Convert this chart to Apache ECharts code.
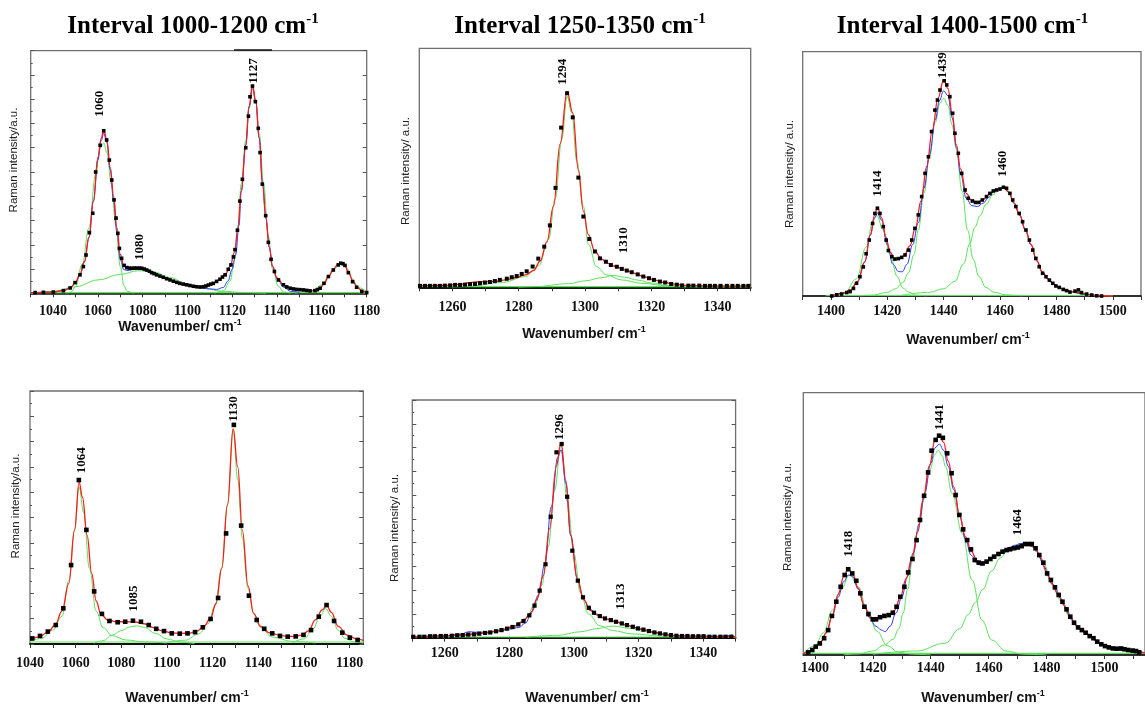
<!DOCTYPE html>
<html><head><meta charset="utf-8">
<script src="https://cdn.jsdelivr.net/npm/echarts@6/dist/echarts.min.js"></script>
<style>html,body{margin:0;padding:0;background:#fff}#c{width:1145px;height:708px}</style>
</head><body><div id="c"></div>
<script>
// ---------- text ----------
const titles = ['Interval 1000-1200 cm', 'Interval 1250-1350 cm', 'Interval 1400-1500 cm'];
const yNames = ['Raman intensity/a.u.', 'Raman intensity/ a.u.', 'Raman intensity/ a.u.', 'Raman intensity/a.u.', 'Raman intensity/ a.u.', 'Raman intensity/ a.u.'];
const xName = 'Wavenumber/ cm';

// ---------- tick values / labels ----------
const ticks1 = [1030,1040,1050,1060,1070,1080,1090,1100,1110,1120,1130,1140,1150,1160,1170,1180];
const labels1 = [1040,1060,1080,1100,1120,1140,1160,1180];
const ticks2 = [1250,1260,1270,1280,1290,1300,1310,1320,1330,1340,1350];
const labels2 = [1260,1280,1300,1320,1340];
const ticks3 = [1390,1400,1410,1420,1430,1440,1450,1460,1470,1480,1490,1500,1510];
const labels3 = [1400,1420,1440,1460,1480,1500];
const ticks4 = [1040,1050,1060,1070,1080,1090,1100,1110,1120,1130,1140,1150,1160,1170,1180];
const labels4 = [1040,1060,1080,1100,1120,1140,1160,1180];
const ticks5 = [1250,1260,1270,1280,1290,1300,1310,1320,1330,1340,1350];
const labels5 = [1260,1280,1300,1320,1340];
const ticks6 = [1400,1410,1420,1430,1440,1450,1460,1470,1480,1490,1500,1510];
const labels6 = [1400,1420,1440,1460,1480,1500];

// ---------- panel 1 (1000-1200, top) ----------
const p1Data = [[1032,0.3],[1035.7,0.4],[1040.1,0.5],[1044.6,1.1],[1047.6,2.2],[1049.8,4.4],[1052,7.6],[1053.5,11],[1054.7,15.8],[1056.2,25],[1057.7,33],[1059,50],[1061,61],[1062.6,67],[1063.9,63.2],[1065.1,54.9],[1066.2,46.7],[1067.2,38.5],[1068.1,31],[1068.9,24.7],[1069.6,18.5],[1070.6,14.4],[1071.7,11.5],[1072.9,10.6],[1074,10.4],[1075.1,10.3],[1076.2,10.4],[1077.3,10.4],[1078.5,10.4],[1079.6,10.3],[1080.7,10],[1081.8,9.6],[1083,9.1],[1084,8.5],[1085.1,8.1],[1086.2,7.6],[1087.7,7.1],[1089.2,6.6],[1090.7,6],[1092.2,5.5],[1093.7,5],[1095.2,4.5],[1096.6,4.1],[1098.1,3.8],[1099.6,3.5],[1101.1,3.2],[1102.6,2.9],[1104.1,2.7],[1105.6,2.6],[1107.1,2.7],[1108.2,3],[1109.3,3.4],[1110.4,3.8],[1111.5,4.1],[1113,4.9],[1114.5,5.8],[1115.6,6.7],[1116.8,7.6],[1118.2,9.9],[1119.4,11.7],[1120.5,15],[1121.2,18],[1122.3,26],[1123.4,38],[1124.5,47],[1126,60],[1127.2,73],[1127.9,81],[1129,85.4],[1130.3,79],[1131.6,68],[1132.4,58],[1133.4,45],[1134.9,32],[1136.1,21],[1137.3,14],[1138.8,9],[1140.6,5.5],[1142.8,3.5],[1144.3,2.6],[1145.8,2.1],[1147.3,1.8],[1148.7,1.6],[1150.2,1.5],[1151.7,1.4],[1153.2,1.2],[1154.7,1],[1156.9,1.1],[1158,1.5],[1159.2,2.1],[1160.9,4.1],[1162.9,6.9],[1165.1,9.6],[1167.3,11.7],[1168.4,12.4],[1169.4,12.2],[1170.3,11.5],[1171.8,8.5],[1173.7,4.8],[1175.5,2.5],[1177.8,0.8],[1180,0.3]];
const p1Red = [[1030,0.2],[1040,0.5],[1045,1.2],[1048,2.5],[1050,4.6],[1052,7.8],[1054,13],[1056,23],[1058,38],[1060,56],[1061.5,64],[1062.6,67.5],[1064,63],[1065.5,52],[1067,40],[1068.5,27],[1070,16],[1071.5,11.5],[1073,10.5],[1077,10.4],[1080,10.2],[1085,8.2],[1090,6.3],[1095,4.6],[1100,3.3],[1105,2.6],[1108,2.9],[1111,3.9],[1114,5.5],[1117,8],[1119,11],[1121,17],[1122.5,27],[1124,42],[1126,61],[1127.5,77],[1129,86],[1130.5,79],[1132,64],[1133.5,45],[1135,31],[1136.5,19],[1138,11],[1140,6.3],[1143,3.4],[1147,1.9],[1152,1.3],[1156,1],[1159,1.9],[1161,4],[1163,7],[1165,9.7],[1167,11.8],[1168.5,12.6],[1170,11.8],[1172,8.5],[1174,4.6],[1176,2.2],[1178,0.9],[1180,0.3]];
const p1Blue = [[1030,0.2],[1040,0.5],[1045,1.2],[1048,2.5],[1050,4.6],[1052,7.8],[1054,13],[1056,23],[1058,38],[1060,55],[1061.5,63],[1062.6,66],[1064,62],[1065.5,51],[1067,38],[1068.5,25],[1070,14],[1071.5,9.8],[1073,9.4],[1077,10],[1080,10],[1085,8.2],[1090,6.3],[1095,4.6],[1100,3.2],[1105,2.3],[1110,1.8],[1113,1.6],[1116,2.4],[1118,5],[1120,10],[1121.5,16],[1123,28],[1124,42],[1126,61],[1127.5,77],[1129,85],[1130.5,79],[1132,64],[1133.5,45],[1135,31],[1136.5,19],[1138,11],[1140,6],[1143,2.5],[1146,0.8],[1150,0.3]];
const p1PeakA = [[1046,0],[1048,0.5],[1050,2.7],[1053,12],[1056,27],[1059,49],[1061,60],[1062.6,62],[1064,58],[1066,45],[1068,28],[1070,11],[1071.7,3],[1073,0.8],[1076,0]];
const p1PeakB = [[1030,0],[1040,0.8],[1050,2.7],[1060,5.5],[1070,7.8],[1078,9.3],[1085,8.8],[1092,6.5],[1100,3.8],[1108,2],[1115,0.9],[1125,0.3],[1135,0]];
const p1PeakC = [[1112,0],[1116,1],[1119,5],[1121,14],[1122.5,28],[1124,45],[1126,63],[1127.5,76],[1129,84],[1130.5,79],[1132,66],[1134,45],[1136,24],[1138,10],[1140.5,3],[1143,0.5],[1146,0]];
const p1PeakD = [[1148,0],[1152,0.5],[1156,1.3],[1160,3.5],[1163,7],[1166,10.5],[1168.5,12.3],[1171,10.5],[1173.5,6],[1176,2.5],[1180,0.5]];
const p1Base = [[1030,0.3],[1180,0.3]];
const p1Labels = [[1061,72.8,'1060'],[1078.8,13.7,'1080'],[1129.4,86.5,'1127']];

// ---------- panel 2 (1250-1350, top) ----------
const p2Data = [[1250.2,0.6],[1251.7,0.6],[1253.2,0.6],[1254.7,0.6],[1256.2,0.6],[1257.7,0.7],[1259.3,0.8],[1260.8,1],[1262.3,1],[1263.8,1.1],[1265.3,1.3],[1266.8,1.4],[1268.3,1.7],[1269.8,2],[1271.3,2.2],[1272.8,2.6],[1274.3,3.1],[1276.4,3.6],[1277.9,4.2],[1279.4,4.7],[1280.9,5.6],[1282.4,6.7],[1284.2,8.7],[1285.9,12],[1287.7,17],[1289.4,25.9],[1291.1,41.6],[1292.8,66.8],[1294.6,81.2],[1296.3,71.1],[1298,45.9],[1299.5,29.6],[1301.3,20.2],[1303,15],[1304.5,12.1],[1306.3,10.7],[1307.8,9.3],[1309.6,8.6],[1311.1,7.7],[1312.6,7],[1314.1,6.3],[1315.9,5.4],[1317.6,4.5],[1319.3,3.8],[1320.8,3.1],[1322.6,2.4],[1324.2,2],[1326,1.4],[1327.7,1.1],[1329.3,0.8],[1331.2,0.7],[1332.7,0.7],[1334.5,0.7],[1336.2,0.6],[1337.7,0.6],[1339.2,0.6],[1340.9,0.6],[1342.8,0.6],[1344.5,0.6],[1346.1,0.6],[1347.8,0.6],[1349.3,0.6]];
const p2Red = [[1250,0.6],[1258,0.8],[1262,1.2],[1265,1.9],[1267,2.3],[1270,2.4],[1273,2.5],[1276,3.1],[1279,4],[1282,5.2],[1284.5,7],[1286.5,11],[1288.5,19],[1290.5,34],[1292.5,60],[1294.6,82],[1296.3,73],[1298,49],[1299.5,32],[1301,22],[1303,15],[1305,11.8],[1307,10],[1309,8.8],[1312,7.3],[1315,5.8],[1318,4.3],[1321,3],[1324,2],[1327,1.3],[1331,0.8],[1336,0.6],[1345,0.5],[1350,0.7]];
const p2PeakA = [[1260,0.2],[1265,0.5],[1275,2],[1282,4.5],[1286,9],[1289,20],[1291,37],[1293,62],[1294.6,80],[1296,73],[1297.5,53],[1299.5,34],[1301,18],[1303.5,8.6],[1306.5,5.2],[1311,3.1],[1317,1.7],[1325,0.6],[1335,0.2],[1350,0]];
const p2PeakB = [[1280,0],[1285,0.3],[1295,1.5],[1300,2.7],[1305,4],[1308.5,5],[1312,4.2],[1316,3],[1320,1.8],[1325,0.7],[1330,0.2],[1340,0]];
const p2Base = [[1250,0.3],[1350,0.3]];
const p2Labels = [[1293.3,84.7,'1294'],[1311.8,14.2,'1310']];

// ---------- panel 3 (1400-1500, top) ----------
const p3Data = [[1400.3,0],[1402.1,0.5],[1403.8,0.8],[1405.6,1.4],[1406.8,1.8],[1408,3.1],[1409.1,5.2],[1410.3,7.9],[1411.5,11.9],[1412.5,17.3],[1413.6,22.9],[1414.8,29.7],[1415.6,33.8],[1416.5,35.9],[1417.4,33.8],[1418.6,28.4],[1419.6,22.9],[1420.4,18.6],[1421.6,16.1],[1422.7,15.1],[1423.9,15.3],[1425.1,15.8],[1426.3,16.8],[1427.5,18.8],[1428.7,22.9],[1429.8,27.7],[1431,33.2],[1432.2,40.7],[1433.4,50.2],[1434.6,57],[1435.7,67.3],[1436.9,76.1],[1437.8,80.2],[1438.7,84.3],[1440.2,88.1],[1441.1,86.4],[1442.2,81.6],[1443.2,74.8],[1444,66.6],[1445.2,58.4],[1446.4,50.2],[1447.6,43.4],[1448.7,40],[1450.2,38.9],[1451.3,38.3],[1452.5,38.3],[1453.7,39.3],[1455.2,40.7],[1456.4,42],[1457.6,43],[1458.8,43.4],[1460,43.8],[1461.2,44.5],[1462.3,44.1],[1463.5,42],[1464.5,39.3],[1465.6,36.6],[1466.8,33.8],[1468,30.4],[1469.2,27],[1470.4,22.9],[1471.6,18.8],[1472.7,15.4],[1473.9,12],[1475.1,9.3],[1476.3,7.9],[1477.5,6.5],[1478.7,5.2],[1479.8,4.1],[1481,3.5],[1482.4,2.7],[1483.6,2.2],[1484.8,1.6],[1486.6,2],[1487.8,2.5],[1488.9,1.4],[1490.7,0.8],[1492.5,0.4],[1494.3,0.1],[1496,0]];
const p3Red = [[1400,0],[1404,1],[1407,2.5],[1409.5,6],[1412,14],[1414,25],[1415.5,33],[1416.5,36.5],[1418,32],[1419.5,24],[1421,18],[1422.5,15.5],[1424,15],[1426,16.5],[1428,20.5],[1430,28],[1432,39],[1434,53],[1436,68],[1438,81],[1440,88.5],[1441.5,85],[1443,75],[1444.5,62],[1446,52],[1448,42],[1450,39],[1452,38.3],[1454,39.5],[1456,41.5],[1458,43.2],[1460,44],[1461.5,44.5],[1463,42.5],[1465,38],[1467,33],[1469,27],[1471,21],[1473,14.5],[1475,9.8],[1477,7],[1479,4.8],[1482,3],[1485,1.8],[1488,1.4],[1491,0.7],[1495,0.1],[1500,0]];
const p3Blue = [[1400,0],[1404,1],[1407,2.5],[1409.5,6],[1412,14],[1414,25],[1415.5,32],[1416.5,34],[1418,31],[1420,21],[1422,13],[1424,10],[1425.3,9.9],[1427,13],[1429,21],[1431,30],[1433,44],[1435,58],[1437,72],[1438.5,80],[1440,84],[1441.5,82],[1443,73],[1444.5,61],[1446,50],[1448,40],[1450,37],[1452,36.6],[1454,38],[1456,40.5],[1458,43],[1460,44],[1461.5,44.5],[1463,42.5],[1465,38],[1467,33],[1469,27],[1471,21],[1473,14.5],[1475,9.8],[1477,7],[1479,4.8],[1482,3],[1485,1.8],[1490,0.7],[1495,0.1]];
const p3PeakA = [[1398,0],[1400,0.3],[1405,1.5],[1409,7],[1412.5,20],[1415,31],[1416.3,33],[1418.5,27],[1421,17],[1423.5,8],[1425.5,3.3],[1427.5,1.6],[1430,0.4],[1434,0]];
const p3PeakB = [[1410,0],[1415,0.4],[1420,1.5],[1423,3],[1425.5,5.5],[1427.5,9.5],[1429.5,17],[1431,27],[1433,42],[1435,57],[1437,71],[1438.7,79],[1440,81],[1441.5,78],[1443,70],[1444.5,60],[1446.5,43],[1448.5,27],[1450.5,15],[1452.5,8],[1455,3.5],[1458,1.5],[1462,0.5],[1468,0]];
const p3PeakC = [[1425,0.3],[1435,1.5],[1440,3],[1444,6],[1447,13],[1449.3,21.5],[1451,28],[1453,33],[1455,37.5],[1457.5,41.5],[1460,43.8],[1461.5,44.5],[1463,43],[1465,38],[1467,33],[1469,27],[1471,21],[1473,14.5],[1475,9.8],[1477,7],[1479,4.8],[1482,3],[1485,1.8],[1488,1],[1492,0.3],[1500,0]];
const p3Base = [[1400,0.2],[1500,0.2]];
const p3Labels = [[1416.5,40.7,'1414'],[1439.6,89.1,'1439'],[1460.9,48.8,'1460']];

// ---------- panel 4 (1000-1200, bottom) ----------
const p4Data = [[1041,2.2],[1044.4,3.2],[1047.8,4.9],[1051.3,7.5],[1054.6,14.1],[1058,31.2],[1061.4,64.8],[1064.7,45.1],[1068.1,20.8],[1071.5,11.9],[1074.8,9.1],[1078.4,8.6],[1081.7,8.8],[1085.1,9.2],[1088.6,8.8],[1092,7.5],[1095.3,6],[1098.7,5.1],[1102.1,4.2],[1105.6,4.1],[1109,4.2],[1112.3,4.7],[1115.7,6.6],[1119.1,9.9],[1122.4,18.2],[1125.9,43.7],[1129.3,86.6],[1132.5,46.8],[1135.9,19.1],[1139.3,9.5],[1142.6,6],[1146.1,4.2],[1149.5,3.2],[1152.9,2.9],[1156.4,3],[1159.8,3.6],[1163.1,5.5],[1166.5,10.8],[1169.9,15.4],[1173.2,9.1],[1176.8,4.5],[1180.1,2.5],[1183.5,1.6]];
const p4Red = [[1040,1.5],[1044,2.8],[1048,4.8],[1051,7.5],[1054,13],[1057,24],[1059.5,45],[1061.5,64],[1063,58],[1065,43],[1067,28],[1069,17],[1071,12],[1074,9.5],[1078,8.8],[1082,8.8],[1086,8.7],[1090,8],[1094,6.5],[1098,5.2],[1102,4.4],[1106,4.2],[1110,4.3],[1113,5],[1116,6.8],[1119,10],[1121.5,16],[1124,30],[1126.5,55],[1129,85],[1131,70],[1133,45],[1135.5,23],[1138,12],[1141,7],[1145,4.4],[1150,3.3],[1155,3],[1159,3.5],[1162,5.2],[1165,9.5],[1168,13.5],[1170,15.2],[1172,12.5],[1175,7],[1179,3.5],[1183,2],[1186,1.4]];
const p4PeakA = [[1040,1],[1045,2.2],[1050,5.5],[1054,11],[1057,25],[1059.5,45],[1061.5,62],[1063.5,52],[1066,30],[1069,13],[1072,6.5],[1076,3.3],[1082,1.6],[1090,0.8],[1100,0.4]];
const p4PeakB = [[1068,0.3],[1072,1.3],[1076,3.5],[1080,5.3],[1084,6.8],[1087,7.2],[1090,6.6],[1095,4.2],[1100,2],[1106,0.7],[1112,0.2]];
const p4PeakC = [[1100,0.6],[1108,1.5],[1114,4],[1118,8],[1121,15],[1124,30],[1126.5,55],[1129,85],[1131,65],[1133,42],[1135.5,22],[1138,12],[1141,6.5],[1146,2.8],[1155,1],[1165,0.4]];
const p4PeakD = [[1155,0.5],[1160,2],[1164,6],[1167,11],[1169.5,14],[1172,11],[1175,5.5],[1178,2.2],[1182,0.8],[1186,0.3]];
const p4Base = [[1040,0.8],[1186,0.8]];
const p4Labels = [[1062.7,67.5,'1064'],[1085.4,12.8,'1085'],[1129.3,87.9,'1130']];

// ---------- panel 5 (1250-1350, bottom) ----------
const p5Data = [[1250.3,0.4],[1252.2,0.4],[1253.7,0.4],[1255.5,0.6],[1257,0.6],[1258.8,0.7],[1260.4,0.7],[1262.2,0.8],[1263.9,1],[1265.6,1.1],[1267.3,1.3],[1269.1,1.4],[1270.7,1.7],[1272.5,2],[1274.1,2.2],[1275.9,2.7],[1277.6,3.2],[1279.3,3.8],[1281,4.5],[1282.8,5.6],[1284.4,7],[1286.2,9.4],[1287.8,13.5],[1289.4,19.8],[1291.2,30.9],[1292.8,50.9],[1294.6,78],[1296.2,81.5],[1297.9,59.3],[1299.5,36.6],[1301.2,24],[1302.8,17],[1304.6,12.6],[1306.2,10.5],[1308,9.1],[1309.6,8.1],[1311.4,7.4],[1313,6.7],[1314.8,6],[1316.4,5.3],[1318.2,4.6],[1319.8,3.9],[1321.5,3.4],[1323.2,2.8],[1324.9,2.2],[1326.6,1.8],[1328.3,1.4],[1330,1.1],[1331.7,0.8],[1333.4,0.7],[1335.1,0.7],[1336.8,0.6],[1338.5,0.6],[1340.1,0.6],[1341.9,0.4],[1343.5,0.4],[1345.3,0.4],[1346.9,0.4],[1348.7,0.4]];
const p5Red = [[1250,0.4],[1260,0.7],[1266,1.2],[1272,1.9],[1277,3.1],[1281,4.6],[1284,6.6],[1286.5,10],[1288.5,16],[1290.5,26],[1292.5,46],[1294.5,72],[1296,82],[1297.5,66],[1299,43],[1301,25],[1303,16],[1305,11.5],[1307,9.6],[1310,7.8],[1313,6.7],[1316,5.4],[1319,4.2],[1322,3.2],[1325,2.2],[1328,1.4],[1332,0.8],[1338,0.6],[1345,0.4],[1350,0.4]];
const p5Blue = [[1250,0.4],[1260,0.8],[1265,1.5],[1267.5,2.5],[1270,2.3],[1273,2.3],[1277,2.9],[1280,3.6],[1283,4.3],[1285,6.2],[1287,11],[1289,18],[1291,31],[1293,55],[1295,76],[1296,79],[1297.5,65],[1299,43],[1301,25],[1303,16],[1305,12],[1307,10],[1310,7.8],[1313,6.7],[1316,5.4],[1319,4.2],[1322,3.2],[1325,2.2],[1328,1.4],[1332,0.8],[1338,0.6],[1345,0.6],[1349,1.1]];
const p5PeakA = [[1250,0.2],[1265,0.9],[1275,2.2],[1281,4],[1285,8],[1288,14],[1290,22],[1292,38],[1294,62],[1296,81],[1298,57],[1300,35],[1302,19],[1304.5,10],[1308,5],[1312,3],[1318,1.6],[1327,0.7],[1340,0.3],[1350,0.2]];
const p5PeakB = [[1285,0.2],[1295,1],[1302,2.5],[1307,3.8],[1312,4.9],[1317,4],[1322,2.6],[1328,1.3],[1335,0.5],[1345,0.1]];
const p5Base = [[1250,0.3],[1350,0.3]];
const p5Labels = [[1295.6,83.2,'1296'],[1314.4,11.9,'1313']];

// ---------- panel 6 (1400-1500, bottom) ----------
const p6Data = [[1397.7,1],[1399.1,1.9],[1400.3,3.2],[1401.7,4.4],[1403.2,6.4],[1404.6,9.5],[1405.9,14.9],[1407.4,20.3],[1408.9,26],[1410.3,30.5],[1411.5,32.7],[1412.9,31.1],[1414.3,28.3],[1415.7,23.5],[1417.1,18.4],[1418.5,15.6],[1420,13.6],[1421.1,13.6],[1422.5,14.4],[1424,14.9],[1425.5,15.2],[1426.9,16.1],[1428.2,18.4],[1429.5,22.2],[1430.9,26],[1432.2,31.5],[1433.7,36.6],[1435.1,43.8],[1436.3,51.5],[1437.7,60.7],[1439.1,69.6],[1440.3,77.9],[1441.7,82],[1442.9,83.6],[1444.2,82.8],[1445.7,76.9],[1447.2,69.3],[1448.6,61],[1449.9,53.4],[1451.2,47.9],[1452.6,43.8],[1453.9,40.3],[1455.2,36.2],[1456.6,35.2],[1457.9,34.9],[1459.3,35.6],[1460.6,36.6],[1461.9,37.5],[1463.4,38.5],[1464.8,39.4],[1466.2,40],[1467.4,40.3],[1468.8,40.7],[1470.1,41],[1471.4,41.5],[1472.6,42.3],[1473.9,42.3],[1474.9,42.3],[1476.2,40.7],[1477.5,38.1],[1478.9,35.2],[1480.2,31.1],[1481.5,28.6],[1482.9,25.8],[1484.2,22.9],[1485.5,20.3],[1486.9,17.4],[1488.2,14.6],[1489.5,12.3],[1490.9,10.5],[1492.2,9.5],[1493.5,8.5],[1494.9,7.2],[1496.2,6.4],[1497.5,5.1],[1498.9,4.1],[1500.2,3.4],[1501.5,2.9],[1502.9,2.5],[1504.2,2.4],[1505.7,2.5],[1506.9,2.2],[1508.2,1.9],[1509.7,1.7],[1510.9,1.5],[1512,1]];
const p6Red = [[1396,0.5],[1398,1.3],[1400,2.8],[1402,5],[1404,8.5],[1406,15],[1408,23],[1410,30],[1411.5,33],[1413,31],[1415,25.5],[1417,19],[1419,14.5],[1421,13.5],[1423,14.5],[1425.5,15.2],[1427.5,17],[1429.5,22],[1431.5,29],[1433.5,37],[1435.5,47],[1437.5,60],[1439.5,72],[1441.5,82],[1443,84],[1444.5,81],[1446,74],[1448,64],[1450,53],[1452,45],[1454,39.5],[1456,36],[1458,35],[1460,36],[1462,37.7],[1464,39],[1466,40],[1468,40.7],[1470,41.2],[1472,42],[1474,42.3],[1476,41],[1478,37],[1480,31.5],[1482,27],[1484,23],[1486,19],[1488,15],[1490,11.5],[1492,9.6],[1494,8],[1496,6.4],[1498,4.8],[1500,3.5],[1503,2.5],[1506,2.3],[1509,1.8],[1512,1.2],[1514,0.8]];
const p6Blue = [[1396,0.5],[1398,1.3],[1400,2.8],[1402,5],[1404,8.5],[1406,15],[1408,22],[1410,28],[1411.5,30.5],[1413,30],[1415,25],[1417,19],[1419,14],[1421,11],[1423,9.5],[1424.3,8.9],[1426,11],[1428,16],[1430,22],[1432,30],[1434,39],[1436,50],[1438,62],[1440,73],[1441.5,79],[1443,80.4],[1444.5,78],[1446,72],[1448,63],[1450,53],[1452,44],[1454,38],[1456,35],[1457.1,34.3],[1459,35.5],[1461,37],[1463,38.5],[1465,40],[1467,41],[1469,41.8],[1471,42.5],[1473,42.5],[1475,41.5],[1477,39],[1479,34],[1481,29.5],[1483,25.5],[1485,21.5],[1487,17],[1489,13],[1491,10.3],[1493,8.8],[1495,7],[1497,5.5],[1500,3.5],[1503,2.3],[1506,1.8],[1510,1.2],[1514,0.8]];
const p6PeakA = [[1396,0.6],[1400,3.5],[1403,8.5],[1406,17],[1409,25],[1412,30.5],[1415,26],[1418,17],[1421.5,9],[1425,3.5],[1429,1],[1434,0.3],[1440,0]];
const p6PeakB = [[1410,0.1],[1415,0.4],[1420,1.5],[1424,3.8],[1427,6],[1429,10],[1430.5,16],[1432,25],[1433.7,36],[1435.5,47],[1437.1,58],[1439.5,70],[1441.5,76.5],[1442.6,78],[1444,76],[1445.1,71.8],[1447.4,61.6],[1450.9,46.3],[1454.3,28.6],[1457.7,13.3],[1461.1,5.7],[1466,1.5],[1472,0.3],[1480,0]];
const p6PeakC = [[1420,0.3],[1435,1.5],[1445,4.5],[1450,10],[1453,15.5],[1455.4,20],[1458,25],[1461,32],[1464,37],[1467,40.5],[1471,42.3],[1474,41.8],[1476,40.5],[1478.9,35],[1482,27],[1485,20.5],[1488,14.5],[1491,10.3],[1494,7.8],[1497,5.5],[1500,3.6],[1505,2],[1510,1.1],[1514,0.7]];
const p6Base = [[1396,0.6],[1514,0.6]];
const p6Labels = [[1411.8,37.5,'1418'],[1443.2,85.8,'1441'],[1470.1,45.7,'1464']];

// ---------- assembly ----------
const panels = [
  {data:p1Data, red:p1Red, blue:p1Blue, peaks:[p1PeakA,p1PeakB,p1PeakC,p1PeakD], base:p1Base, labels:p1Labels, ticks:ticks1, tickLabels:labels1},
  {data:p2Data, red:p2Red, blue:null, peaks:[p2PeakA,p2PeakB], base:p2Base, labels:p2Labels, ticks:ticks2, tickLabels:labels2},
  {data:p3Data, red:p3Red, blue:p3Blue, peaks:[p3PeakA,p3PeakB,p3PeakC], base:p3Base, labels:p3Labels, ticks:ticks3, tickLabels:labels3},
  {data:p4Data, red:p4Red, blue:null, peaks:[p4PeakA,p4PeakB,p4PeakC,p4PeakD], base:p4Base, labels:p4Labels, ticks:ticks4, tickLabels:labels4},
  {data:p5Data, red:p5Red, blue:p5Blue, peaks:[p5PeakA,p5PeakB], base:p5Base, labels:p5Labels, ticks:ticks5, tickLabels:labels5},
  {data:p6Data, red:p6Red, blue:p6Blue, peaks:[p6PeakA,p6PeakB,p6PeakC], base:p6Base, labels:p6Labels, ticks:ticks6, tickLabels:labels6}
];

// layout (pixels) kept separate from data
const layout = [
  {left:30.7, top:50.7, width:336, height:242.6, min:1030, max:1180, yt:true, lm:11, sym:3.6, bw:1.6},
  {left:419.3, top:48.3, width:331.4, height:239, min:1250, max:1350, yt:false, lm:13, sym:4, bw:2},
  {left:802.7, top:51.7, width:338.3, height:244.3, min:1390, max:1510, yt:false, lm:8, sym:3.6, bw:1.6},
  {left:30, top:391, width:333.3, height:253, min:1040, max:1186, yt:true, lm:12, sym:4.6, bw:1.8},
  {left:412.3, top:400, width:323.3, height:237.7, min:1250, max:1350, yt:true, lm:9, sym:4.2, bw:1.8},
  {left:803.3, top:392.7, width:344, height:262.3, min:1396, max:1514, yt:false, lm:6, sym:4.6, bw:1.6}
];
const titlePos = [[193,27],[580,27],[962.5,27]];
const xNamePos = [[180,327],[584,334],[968,340],[187,698],[587,698],[983,698]];
const yNamePos = [[13.5,160],[405.7,171],[790,174],[16,506],[395,528],[788.3,517]];

const GREEN = '#5ae25a', RED = '#ff1a1a', BLUE = '#2b3cff';
const grids = [], xAxes = [], yAxes = [], series = [];

panels.forEach((P, i) => {
  const L = layout[i];
  grids.push({left:L.left, top:L.top, width:L.width, height:L.height, show:true,
    borderColor:'#707070', borderWidth:1.3, backgroundColor:'transparent', containLabel:false});
  xAxes.push({gridIndex:i, type:'value', min:L.min, max:L.max,
    axisLine:{show:true, onZero:false, lineStyle:{color:'#111', width:L.bw}},
    axisTick:{show:true, inside:false, length:4, customValues:P.ticks, lineStyle:{color:'#333', width:1}},
    axisLabel:{customValues:P.tickLabels, formatter:v => String(v), margin:L.lm, fontFamily:'Liberation Serif', fontWeight:'bold',
      fontSize:14, color:'#111', showMinLabel:true, showMaxLabel:true, hideOverlap:false},
    splitLine:{show:false}});
  const yi = yAxes.length;
  yAxes.push({gridIndex:i, type:'value', min:0, max:100, interval:10, position:'left',
    axisLine:{show:false}, axisLabel:{show:false}, splitLine:{show:false},
    axisTick:{show:L.yt, inside:true, length:4, lineStyle:{color:'#555'}},
    minorTick:{show:L.yt, splitNumber:2, length:2, lineStyle:{color:'#555'}}});
  yAxes.push({gridIndex:i, type:'value', min:0, max:100, interval:10, position:'right',
    axisLine:{show:false}, axisLabel:{show:false}, splitLine:{show:false},
    axisTick:{show:L.yt, inside:true, length:4, lineStyle:{color:'#555'}}});

  const common = {xAxisIndex:i, yAxisIndex:yi, silent:true, animation:false};
  series.push(Object.assign({type:'line', data:P.base, showSymbol:false, symbol:'none',
    lineStyle:{color:GREEN, width:1.2}, z:1}, common));
  P.peaks.forEach(pk => series.push(Object.assign({type:'line', data:pk, smooth:0.4, smoothMonotone:'x',
    showSymbol:false, symbol:'none', lineStyle:{color:GREEN, width:1}, z:2}, common)));
  if (P.blue) series.push(Object.assign({type:'line', data:P.blue, smooth:0.4, smoothMonotone:'x',
    showSymbol:false, symbol:'none', lineStyle:{color:BLUE, width:1}, z:3}, common));
  series.push(Object.assign({type:'line', data:P.red, smooth:0.4, smoothMonotone:'x',
    showSymbol:false, symbol:'none', lineStyle:{color:RED, width:1.3}, z:4}, common));
  series.push(Object.assign({type:'scatter', data:P.data, symbol:'rect', symbolSize:L.sym,
    itemStyle:{color:'#000', opacity:1}, z:5}, common));
  series.push(Object.assign({type:'scatter', symbolSize:0, z:6, itemStyle:{opacity:1},
    data:P.labels.map(l => ({value:[l[0], l[1]], name:l[2]})),
    label:{show:true, formatter:'{b}', position:'inside', rotate:90, align:'left', verticalAlign:'middle',
      fontFamily:'Liberation Serif', fontWeight:'bold', fontSize:13, color:'#000', opacity:1,
      textBorderWidth:0, textShadowBlur:0}}, common));
});

const graphic = [];
titles.forEach((t, k) => graphic.push({type:'text', x:titlePos[k][0], y:titlePos[k][1], silent:true,
  style:{text:'{a|' + t + '}{s|-1}', align:'center', verticalAlign:'middle',
    rich:{a:{fontFamily:'Liberation Serif', fontWeight:'bold', fontSize:25, lineHeight:30, fill:'#000'},
          s:{fontFamily:'Liberation Serif', fontWeight:'bold', fontSize:15, lineHeight:15, verticalAlign:'top', fill:'#000'}}}}));
xNamePos.forEach(p => graphic.push({type:'text', x:p[0], y:p[1], silent:true,
  style:{text:'{a|' + xName + '}{s|-1}', align:'center', verticalAlign:'middle',
    rich:{a:{fontFamily:'Liberation Sans', fontWeight:'bold', fontSize:14, lineHeight:18, fill:'#111'},
          s:{fontFamily:'Liberation Sans', fontWeight:'bold', fontSize:9, lineHeight:9, verticalAlign:'top', fill:'#111'}}}}));
yNamePos.forEach((p, k) => graphic.push({type:'text', x:p[0], y:p[1], rotation:Math.PI/2, silent:true,
  style:{text:yNames[k], align:'center', verticalAlign:'middle', fontFamily:'Liberation Sans', fontSize:11.5, fill:'#222'}}));
graphic.push({type:'line', silent:true, shape:{x1:234, y1:50, x2:272, y2:50}, style:{stroke:'#111', lineWidth:1.5}});

const chart = echarts.init(document.getElementById('c'), null, {renderer:'canvas'});
chart.setOption({animation:false, backgroundColor:'#fff', grid:grids, xAxis:xAxes, yAxis:yAxes, series:series, graphic:graphic});
</script>
</body></html>
